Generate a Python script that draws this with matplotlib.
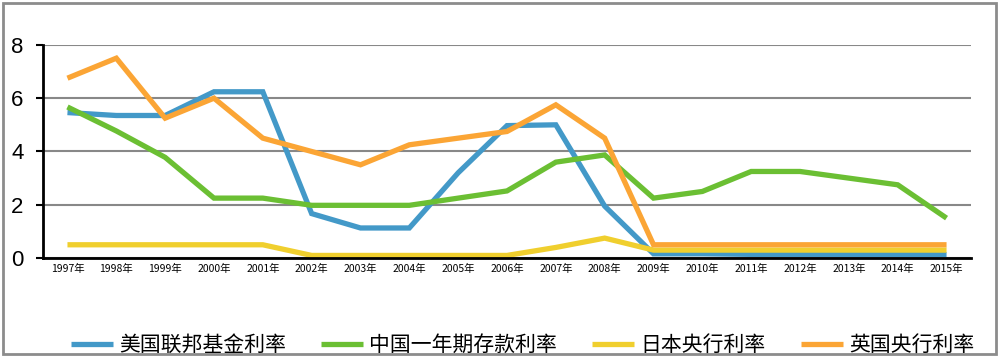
import matplotlib.pyplot as plt
import numpy as np
from matplotlib.patches import Rectangle

years = [f"{y}年" for y in range(1997, 2016)]

us_rate = [5.46, 5.35, 5.35, 6.24, 6.24, 1.67, 1.13, 1.13, 3.2, 4.97, 5.0, 1.95,
           0.16, 0.16, 0.14, 0.14, 0.13, 0.13, 0.13]
cn_rate = [5.67, 4.77, 3.78, 2.25, 2.25, 1.98, 1.98, 1.98, 2.25, 2.52, 3.6, 3.87,
           2.25, 2.5, 3.25, 3.25, 3.0, 2.75, 1.5]
jp_rate = [0.5, 0.5, 0.5, 0.5, 0.5, 0.1, 0.1, 0.1, 0.1, 0.1, 0.4, 0.75,
           0.3, 0.3, 0.3, 0.3, 0.3, 0.3, 0.3]
uk_rate = [6.75, 7.5, 5.25, 6.0, 4.5, 4.0, 3.5, 4.25, 4.5, 4.75, 5.75, 4.5,
           0.5, 0.5, 0.5, 0.5, 0.5, 0.5, 0.5]

labels = ["美国联邦基金利率", "中国一年期存款利率", "日本央行利率", "英国央行利率"]
colors = ["#4399c8", "#6bbf33", "#f0cf2e", "#fba535"]

plt.rcParams["font.family"] = ["Noto Sans CJK SC", "DejaVu Sans"]

fig = plt.figure(figsize=(10.01, 3.56), dpi=100)
ax = fig.add_axes([0.043, 0.275, 0.927, 0.599])

x = np.arange(len(years))
for vals, lab, c in zip([us_rate, cn_rate, jp_rate, uk_rate], labels, colors):
    ax.plot(x, vals, color=c, lw=3.8, label=lab, solid_joinstyle="miter",
            solid_capstyle="butt")

ax.set_xlim(-0.5, len(years) - 0.5)
ax.set_ylim(0, 8)
ax.set_yticks([0, 2, 4, 6, 8])
ax.set_yticklabels(["0", "2", "4", "6", "8"], fontsize=16, family="Liberation Sans")
ax.set_xticks(x)
ax.set_xticklabels(years, fontsize=7.5)
ax.tick_params(axis="x", length=0, pad=4)
ax.tick_params(axis="y", length=5, width=1.5, pad=9)
ax.grid(axis="y", color="#888888", lw=1.5)
ax.set_axisbelow(True)
for s in ["top", "right"]:
    ax.spines[s].set_visible(False)
ax.spines["left"].set_linewidth(2)
ax.spines["bottom"].set_linewidth(2)

fig.legend(loc="center", bbox_to_anchor=(0.522, 0.03), ncol=4, frameon=False,
           fontsize=15, handlelength=2.0, columnspacing=1.7, handletextpad=0.3)

fig.patches.append(Rectangle((0.003, 0.006), 0.992, 0.986, transform=fig.transFigure,
                             fill=False, edgecolor="#8c8c8c", lw=2))

plt.savefig("out.png", dpi=100)
